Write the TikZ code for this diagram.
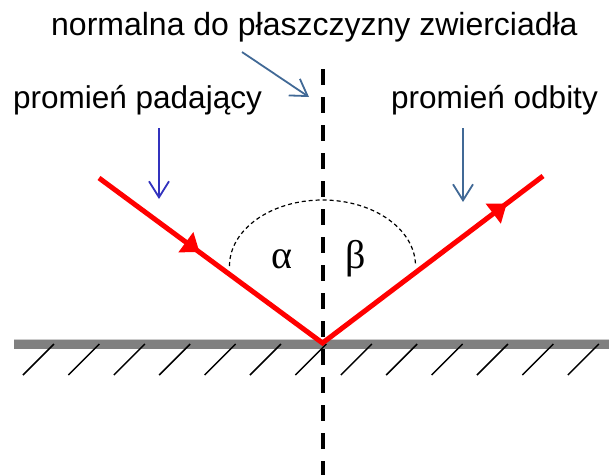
\documentclass[tikz,border=0pt]{standalone}
\usepackage{fontspec}
\setmainfont{Liberation Sans}
\newfontfamily\greekserif{Liberation Serif}
\usetikzlibrary{arrows.meta,decorations.markings}
\definecolor{steel}{RGB}{65,105,150}
\definecolor{ptrblue}{RGB}{50,50,190}
\definecolor{rayred}{RGB}{255,0,0}
\definecolor{mirrorgray}{RGB}{128,128,128}
\begin{document}
\begin{tikzpicture}[x=1pt,y=-1pt,
  lbl/.style={font=\fontsize{31.5}{38}\selectfont, inner sep=0pt, anchor=base west},
  titlelbl/.style={lbl, font=\fontsize{32}{38}\selectfont},
  greek/.style={font=\greekserif\fontsize{40}{46}\selectfont, inner sep=0pt, anchor=base west},
  pointer/.style={line width=1.8pt, -{Straight Barb[length=16pt,width=20pt]}},
  ray/.style={draw=rayred, line width=5pt, line join=miter},
  raytip/.style={rayred},
  hatch/.style={line width=1.5pt, black},
  normalline/.style={line width=4pt, black, dash pattern=on 16pt off 12pt},
  angarc/.style={line width=1.2pt, black, dash pattern=on 4pt off 3pt}]
\useasboundingbox (0,0) rectangle (609,475);
% text
\node[titlelbl] (title) at (51,35) {normalna do płaszczyzny zwierciadła};
\node[lbl] (inc) at (13,108) {promień padający};
\node[lbl] (refl) at (391,108) {promień odbity};
\node[greek] (alpha) at (271,268) {α};
\node[greek] (beta) at (345,268) {β};
% coordinates
\coordinate (A) at (99,178);
\coordinate (O) at (322.5,343);
\coordinate (B) at (543,176);
\coordinate (ntop) at (322.5,69);
\coordinate (nbot) at (322.5,475);
\coordinate (p1s) at (242,52);
\coordinate (p1e) at (309,97);
\coordinate (p2s) at (159,128);
\coordinate (p2e) at (159,199);
\coordinate (p3s) at (463,128);
\coordinate (p3e) at (463,202);
% mirror
\fill[mirrorgray] (14,340) rectangle (609,349);
\draw[gray!40, line width=0.8pt] (14,339.6) -- (609,339.6);
\foreach \i in {0,...,12}
  \draw[hatch] ({23+45.4*\i},375) -- ({54+45.4*\i},344);
% normal
\draw[normalline] (ntop) -- (nbot);
% angle arc
\draw[angarc] (229.5,266) .. controls (229.5,229.5) and (271,200) .. (322.5,200)
  .. controls (374,200) and (415.5,229.5) .. (415.5,266);
% rays
\path[ray, postaction={decorate}, decoration={markings,
  mark=at position 125pt with {\arrow[raytip]{Triangle[length=17pt,width=24pt]}},
  mark=at position 509pt with {\arrow[raytip]{Triangle[length=17pt,width=24pt]}}}]
  (A) -- (O) -- (B);
% pointers
\draw[pointer, steel] (p1s) -- (p1e);
\draw[pointer, ptrblue] (p2s) -- (p2e);
\draw[pointer, steel] (p3s) -- (p3e);
\end{tikzpicture}
\end{document}
